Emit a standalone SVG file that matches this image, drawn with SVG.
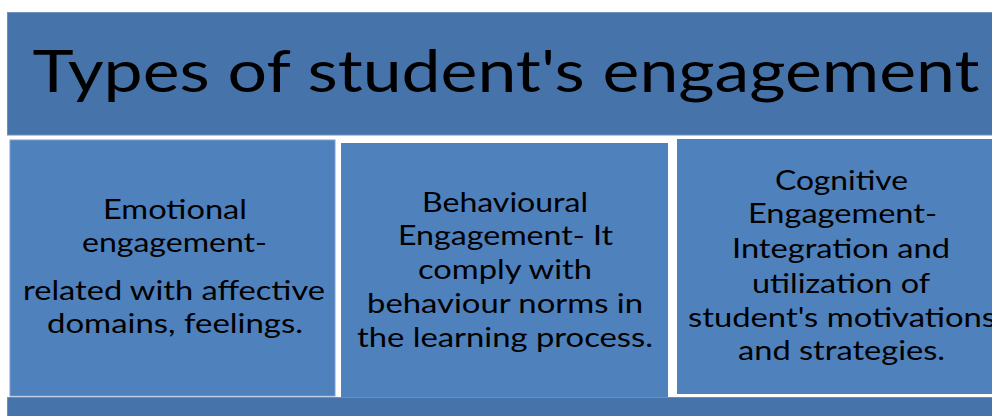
<svg xmlns="http://www.w3.org/2000/svg" width="992" height="416" viewBox="0 0 992 416">
  <style>
    .band { fill: #4673aa; stroke: #6d8fbf; stroke-width: 1; }
    .card { fill: #4f81bd; }
    .card-edge { fill: #4f81bd; stroke: #ffffff; stroke-width: 2; }
    .title { font-family: "Lato", "Liberation Sans", sans-serif; font-size: 58px; fill: #000; text-anchor: middle; }
    .body { font-family: "Lato", "Liberation Sans", sans-serif; font-size: 26px; fill: #000; text-anchor: middle; }
  </style>
  <rect x="0" y="0" width="992" height="416" fill="#ffffff"/>

  <!-- heading band -->
  <g id="header">
    <rect class="band" x="7.5" y="12.5" width="990" height="122.5"/>
    <text class="title" x="506" y="92" textLength="947" lengthAdjust="spacingAndGlyphs">Types of student's engagement</text>
  </g>

  <!-- emotional -->
  <g id="emotional">
    <rect class="card" x="10" y="140" width="325" height="256" stroke="#7f9fcc" stroke-width="1"/>
    <text class="body" x="175" y="219" textLength="144" lengthAdjust="spacingAndGlyphs">Emotional</text>
    <text class="body" x="174.5" y="252" textLength="185" lengthAdjust="spacingAndGlyphs">engagement-</text>
    <text class="body" x="174" y="300" textLength="302" lengthAdjust="spacingAndGlyphs">related with affective</text>
    <text class="body" x="175" y="333" textLength="256" lengthAdjust="spacingAndGlyphs">domains, feelings.</text>
  </g>

  <!-- behavioural -->
  <g id="behavioural">
    <rect class="card-edge" x="340" y="142" width="329" height="256"/>
    <text class="body" x="505" y="212" textLength="166" lengthAdjust="spacingAndGlyphs">Behavioural</text>
    <text class="body" x="505.5" y="245" textLength="215" lengthAdjust="spacingAndGlyphs">Engagement- It</text>
    <text class="body" x="505" y="279" textLength="174" lengthAdjust="spacingAndGlyphs">comply with</text>
    <text class="body" x="505" y="313" textLength="276" lengthAdjust="spacingAndGlyphs">behaviour norms in</text>
    <text class="body" x="505" y="347" textLength="296" lengthAdjust="spacingAndGlyphs">the learning process.</text>
  </g>

  <!-- cognitive -->
  <g id="cognitive">
    <rect class="card-edge" x="676" y="138" width="330" height="257"/>
    <text class="body" x="841.5" y="190" textLength="133" lengthAdjust="spacingAndGlyphs">Cognitive</text>
    <text class="body" x="842.5" y="223" textLength="189" lengthAdjust="spacingAndGlyphs">Engagement-</text>
    <text class="body" x="841" y="258" textLength="218" lengthAdjust="spacingAndGlyphs">Integration and</text>
    <text class="body" x="841" y="293" textLength="178" lengthAdjust="spacingAndGlyphs">utilization of</text>
    <text class="body" x="842" y="327" textLength="308" lengthAdjust="spacingAndGlyphs">student's motivations</text>
    <text class="body" x="841.5" y="360" textLength="207" lengthAdjust="spacingAndGlyphs">and strategies.</text>
  </g>

  <!-- footer band -->
  <g id="footer">
    <rect class="band" x="7.5" y="397.5" width="990" height="30"/>
  </g>
</svg>
